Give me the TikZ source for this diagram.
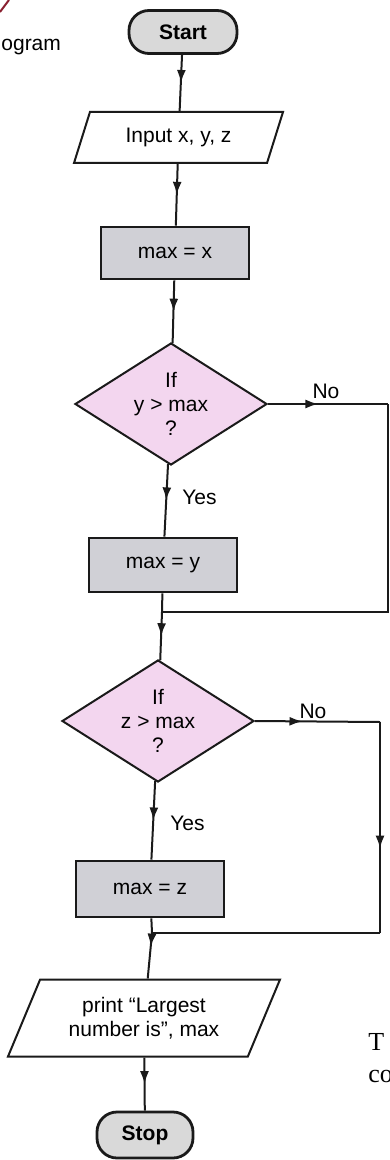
\documentclass[tikz,border=0pt]{standalone}
\usepackage{fontspec}
\setmainfont{Liberation Sans}
\newfontfamily\bookserif{Liberation Serif}
\usepackage{tikz}
\usetikzlibrary{positioning,arrows.meta,shapes.geometric,decorations.markings}
\definecolor{inkblack}{HTML}{1A1A1A}
\definecolor{termgray}{HTML}{D9D9D9}
\definecolor{procgray}{HTML}{D0D0D6}
\definecolor{decpink}{HTML}{F3D6EF}
\definecolor{markred}{HTML}{8A2030}

\begin{document}
\begin{tikzpicture}[
  x=0.5pt, y=-0.5pt,
  font=\fontsize{10.5}{12}\selectfont,
  termbox/.style={
    draw=inkblack, line width=1.4pt, rounded corners=10pt,
    fill=termgray, font=\fontsize{10.5}{12}\selectfont\bfseries,
    minimum width=54pt, minimum height=21.5pt,
  },
  procbox/.style={
    draw=inkblack, line width=1.3pt, fill=procgray,
    minimum width=74pt, minimum height=26pt,
  },
  iobox/.style={
    draw=inkblack, line width=1pt, fill=white,
    trapezium, trapezium left angle=55, trapezium right angle=125,
    trapezium stretches body, align=center, inner sep=1pt,
  },
  decbox/.style={
    draw=inkblack, line width=1pt, fill=decpink,
    diamond, aspect=1.57, minimum width=96pt, minimum height=61pt,
    inner sep=0pt, align=center,
  },
  link/.style={draw=inkblack, line width=1pt},
  flow/.style={link, postaction={decorate},
    decoration={markings, mark=at position #1 with
      {\arrow{Latex[length=6.5pt,width=4.5pt]}}}},
  flow/.default=0.5,
  lbl/.style={font=\fontsize{10.5}{12}\selectfont, inner sep=1pt},
]
\useasboundingbox (0,0) rectangle (390,1160);

% === PAGE LEFTOVERS ===
\draw[markred, line width=1pt] (0,12) -- (9,0);
\node[lbl, anchor=west, inner sep=0pt] (pagetxt) at (1,47) {ogram};
\node[anchor=west, inner sep=0pt, font=\bookserif\fontsize{13}{15}\selectfont]
  (sideT) at (368,1042) {T};
\node[anchor=west, inner sep=0pt, font=\bookserif\fontsize{13}{15}\selectfont]
  (sideco) at (368,1076) {co};

% === MAIN COLUMN ===
\node[termbox] (start) at (183,32) {Start};
\node[iobox, minimum width=104.5pt, minimum height=25.5pt] (inp) at (178.5,137.5) {Input x, y, z};
\node[procbox] (setx) at (175,253) {max = x};
\node[decbox] (ify) at (171,404) {If\\y > max\\?};
\node[procbox, minimum height=27pt] (sety) at (163,565) {max = y};
\node[decbox] (ifz) at (158,721) {If\\z > max\\?};
\node[procbox, minimum height=28pt] (setz) at (150,889) {max = z};
\node[iobox, minimum width=136pt, minimum height=38.5pt] (outp) at (144,1018)
  {print ``Largest\\number is'', max};
\node[termbox, minimum width=48pt, minimum height=23pt] (stop) at (145,1135) {Stop};

% === JOIN POINTS ===
\coordinate (yc1) at (388,404);
\coordinate (yc2) at (388,612);
\coordinate (yj)  at (162,612);
\coordinate (zc1) at (380,722);
\coordinate (zc2) at (380,933);
\coordinate (zj)  at (152,933);

% === CONNECTING LINES ===
\draw[flow] (start) -- (inp);
\draw[flow] (inp) -- (setx);
\draw[flow] (setx) -- (ify);
\draw[flow] (ify) -- (sety);
\node[lbl, anchor=west] (yesy) at (180,497) {Yes};
\draw[link] (sety) -- (yj);
\draw[flow] (yj) -- (ifz);
\draw[flow=0.42] (ify.east) -- (yc1);
\node[lbl] (noy) at (326,391) {No};
\draw[link] (yc1) -- (yc2) -- (yj);

\draw[flow] (ifz) -- (setz);
\node[lbl, anchor=west] (yesz) at (168,823) {Yes};
\draw[link] (setz) -- (zj);
\draw[flow=0.3] (zj) -- (outp);
\draw[flow=0.38] (ifz.east) -- (zc1);
\node[lbl] (noz) at (313,711) {No};
\draw[flow=0.6] (zc1) -- (zc2);
\draw[link] (zc2) -- (zj);

\draw[flow] (outp) -- (stop);

\end{tikzpicture}
\end{document}
